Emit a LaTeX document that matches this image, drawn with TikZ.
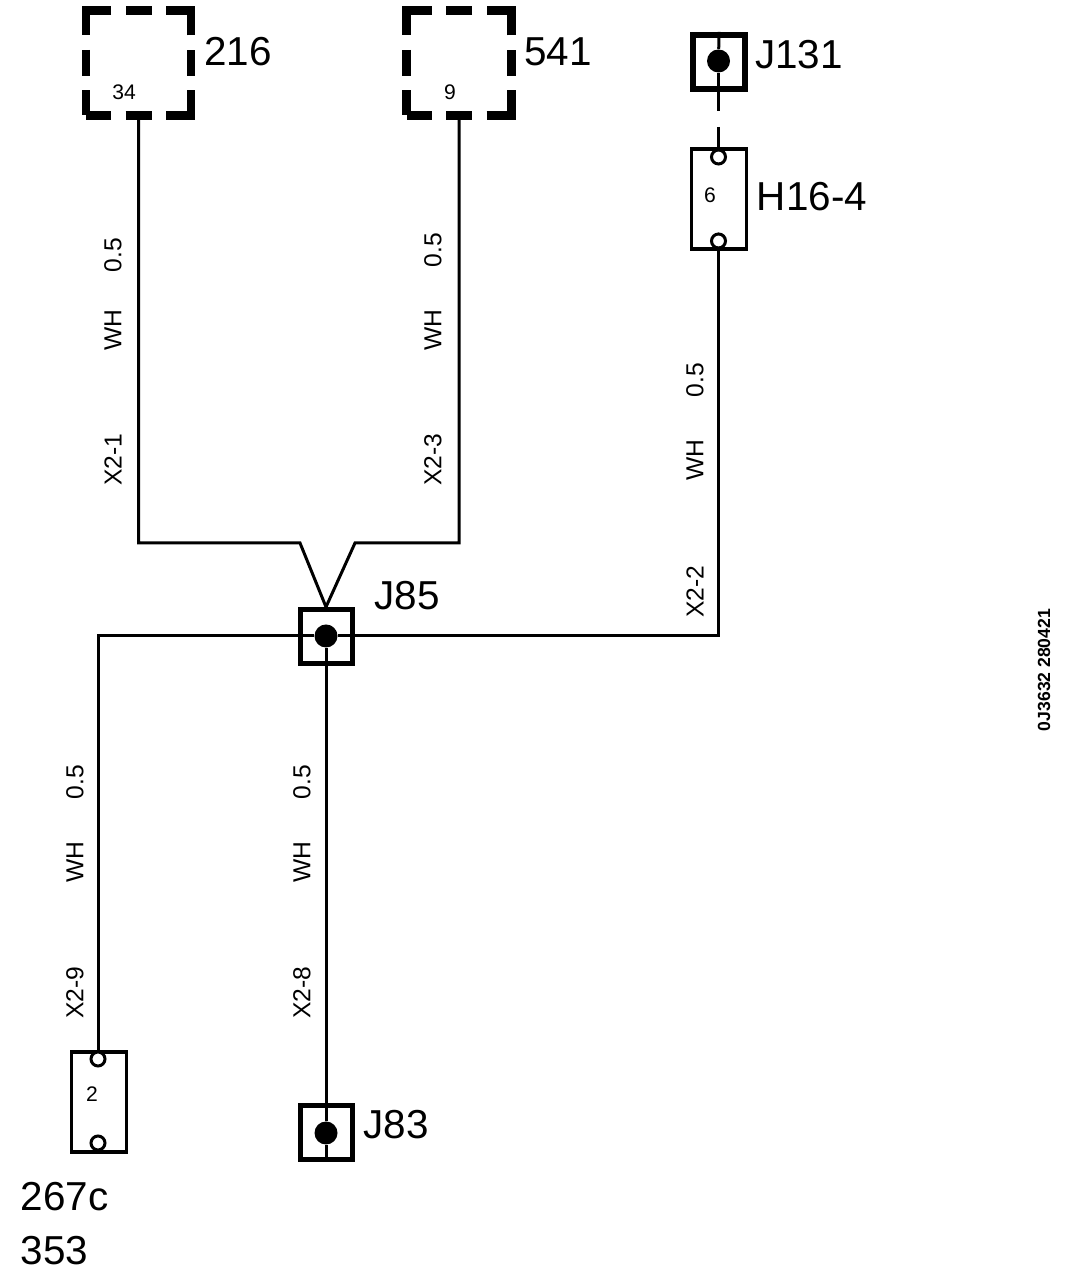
\documentclass[tikz,border=0pt]{standalone}
\usepackage{fontspec}
\setmainfont{Liberation Sans}
\tikzset{
    wire/.style={line width=0.03cm},
    unitbox/.style={draw,line width=0.085cm,minimum size=1.05cm,inner sep=0pt,dash pattern=on 0.50cm off 0.145cm on 0.26cm off 0.145cm,dash phase=0.25cm},
    jointbox/.style={draw,line width=0.05cm,minimum width=0.52cm,minimum height=0.54cm,inner sep=0pt},
    plugbox/.style={draw,line width=0.035cm,minimum width=0.55cm,minimum height=1.00cm,inner sep=0pt},
    jointdot/.style={circle,fill=black,minimum size=0.23cm,inner sep=0pt},
    plugpin/.style={circle,draw,fill=white,line width=0.03cm,minimum size=0.14cm,inner sep=0pt},
    biglabel/.style={font=\fontsize{11.5pt}{13pt}\selectfont,inner sep=0pt},
    pinlabel/.style={font=\fontsize{6pt}{7pt}\selectfont,inner sep=0pt},
    wirelabel/.style={font=\fontsize{7pt}{8pt}\selectfont,rotate=90,inner sep=0pt},
}
\begin{document}
\begin{tikzpicture}
        \useasboundingbox (0,0) rectangle (10.88,12.74);
        % units
        \node[unitbox] at (1.385,12.11) (u216) {};
        \node[unitbox] at (4.59,12.11) (u541) {};
        \node[pinlabel] at (1.24,11.82) (p34) {34};
        \node[pinlabel] at (4.50,11.82) (p9) {9};
        \node[biglabel] at (2.38,12.22) (t216) {216};
        \node[biglabel] at (5.58,12.22) (t541) {541};
        % joints
        \node[jointbox] at (3.26,6.375) (j85) {};
        \node[jointbox] at (3.26,1.41) (j83) {};
        \node[jointbox,line width=0.06cm] at (7.19,12.12) (j131) {};
        \node[jointdot] at (3.26,6.38) (d85) {};
        \node[jointdot] at (3.26,1.41) (d83) {};
        \node[jointdot] at (7.185,12.13) (d131) {};
        \node[biglabel] at (4.07,6.78) (t85) {J85};
        \node[biglabel] at (3.96,1.49) (t83) {J83};
        \node[biglabel] at (7.99,12.19) (t131) {J131};
        % plugs
        \node[plugbox] at (7.19,10.75) (h16) {};
        \node[plugbox] at (0.99,1.72) (h267) {};
        \node[plugpin] at (7.185,11.17) (h16a) {};
        \node[plugpin] at (7.185,10.33) (h16b) {};
        \node[plugpin] at (0.98,2.15) (h267a) {};
        \node[plugpin] at (0.98,1.31) (h267b) {};
        \node[pinlabel] at (7.10,10.79) (p6) {6};
        \node[pinlabel] at (0.92,1.80) (p2) {2};
        \node[biglabel] at (8.12,10.77) (t16) {H16-4};
        \node[biglabel,anchor=west] at (0.20,0.77) (t267) {267c};
        \node[biglabel,anchor=west] at (0.20,0.23) (t353) {353};
        % bends
        \coordinate (a1) at (1.385,7.31);
        \coordinate (a2) at (3.00,7.31);
        \coordinate (b1) at (4.59,7.31);
        \coordinate (b2) at (3.55,7.31);
        \coordinate (c1) at (7.185,6.38);
        \coordinate (e1) at (0.98,6.38);
        \coordinate (g1) at (7.185,11.63);
        \coordinate (g2) at (7.185,11.47);
        % wires
        \draw[wire] (u216.south) -- (a1) -- (a2) -- (j85.north);
        \draw[wire] (u541.south) -- (b1) -- (b2) -- (j85.north);
        \draw[wire] (d85) -- (c1) -- (h16b);
        \draw[wire] (d85) -- (e1) -- (h267a);
        \draw[wire] (d85) -- (d83);
        \draw[wire] (d83) -- (j83.south);
        \draw[wire] (j131.north) -- (d131);
        \draw[wire] (d131) -- (g1);
        \draw[wire] (g2) -- (h16a);
        % wire labels
        \node[wirelabel] at (1.13,10.19) (l1a) {0.5};
        \node[wirelabel] at (1.13,9.44) (l1b) {WH};
        \node[wirelabel] at (1.13,8.14) (l1c) {X2-1};
        \node[wirelabel] at (4.33,10.24) (l2a) {0.5};
        \node[wirelabel] at (4.33,9.44) (l2b) {WH};
        \node[wirelabel] at (4.33,8.14) (l2c) {X2-3};
        \node[wirelabel] at (6.95,8.94) (l3a) {0.5};
        \node[wirelabel] at (6.95,8.14) (l3b) {WH};
        \node[wirelabel] at (6.95,6.82) (l3c) {X2-2};
        \node[wirelabel] at (0.75,4.92) (l4a) {0.5};
        \node[wirelabel] at (0.75,4.12) (l4b) {WH};
        \node[wirelabel] at (0.75,2.81) (l4c) {X2-9};
        \node[wirelabel] at (3.02,4.92) (l5a) {0.5};
        \node[wirelabel] at (3.02,4.12) (l5b) {WH};
        \node[wirelabel] at (3.02,2.81) (l5c) {X2-8};
        \node[font=\fontsize{5pt}{6pt}\selectfont\bfseries,rotate=90,inner sep=0pt] at (10.44,6.04) (stamp) {0J3632 280421};
    \end{tikzpicture}
\end{document}
